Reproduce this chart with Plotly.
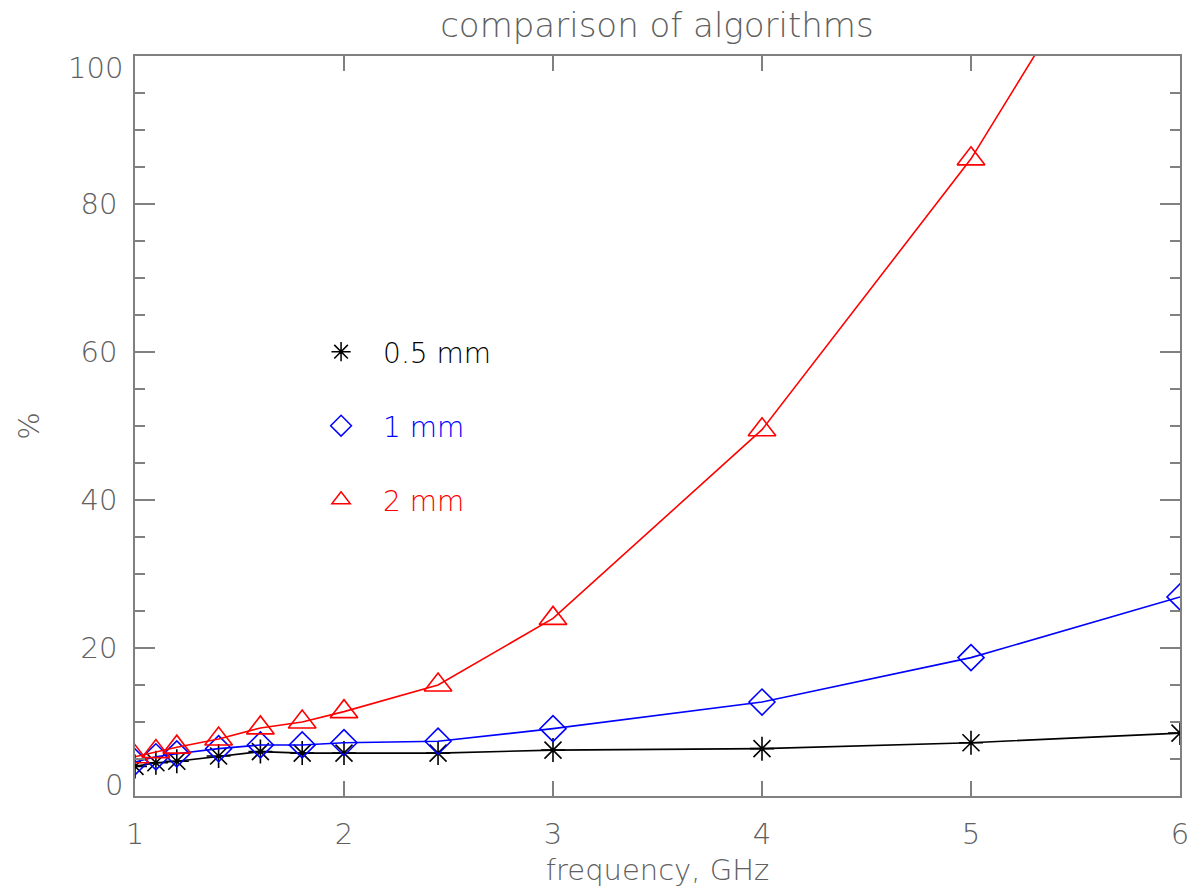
import plotly.graph_objects as go

freq_ghz = [1.0, 1.1, 1.2, 1.4, 1.6, 1.8, 2.0, 2.45, 3.0, 4.0, 5.0, 6.0]
pct_05mm = [4.0, 4.5, 4.7, 5.4, 6.0, 5.8, 5.8, 5.8, 6.2, 6.4, 7.2, 8.5]
pct_1mm = [4.6, 5.3, 5.7, 6.4, 6.9, 6.9, 7.2, 7.4, 9.1, 12.7, 18.7, 26.9]
pct_2mm = [5.3, 6.0, 6.6, 7.7, 9.2, 10.0, 11.4, 15.0, 24.0, 49.5, 86.1, 132.0]

y_tick_values = [0, 20, 40, 60, 80, 100]
y_tick_labels = ["0", "20", "40", "60", "80", "100"]
x_tick_values = [1, 2, 3, 4, 5, 6]
x_tick_labels = ["1", "2", "3", "4", "5", "6"]

series_names = ["0.5 mm", "1 mm", "2 mm"]
series_colors = ["#000000", "#0000ff", "#ff0000"]
series_symbols = ["asterisk-open", "diamond-open", "triangle-up-open"]
series_sizes = [20, 20, 24]
series_values = [pct_05mm, pct_1mm, pct_2mm]
legend_ids = ["legend", "legend2", "legend3"]

FONT = "DejaVu Sans"
GRAY = "#606060"
AXIS = "#808080"
TICKFONT = dict(family=FONT, size=29, color=GRAY, weight=200)

fig = go.Figure()
for name, col, sym, sz, vals in zip(series_names, series_colors, series_symbols, series_sizes, series_values):
    fig.add_trace(go.Scatter(
        x=freq_ghz, y=vals, mode="lines+markers", name=name,
        line=dict(color=col, width=1.6),
        marker=dict(symbol=sym, size=sz, color=col, line=dict(width=1.6, color=col)),
        showlegend=False,
    ))
# legend-only entries (markers only)
for name, col, sym, lg in zip(series_names, series_colors, series_symbols, legend_ids):
    fig.add_trace(go.Scatter(
        x=[None], y=[None], mode="markers", name=name, legend=lg,
        marker=dict(symbol=sym, size=16, color=col, line=dict(width=1.5, color=col)),
        showlegend=True,
    ))

def leg(y, color):
    return dict(x=0.157, y=y, xanchor="left", yanchor="middle", xref="paper", yref="paper",
                bgcolor="rgba(0,0,0,0)", itemwidth=74,
                font=dict(family=FONT, size=28, color=color, weight=200))

# end labels of the y axis are nudged inward (as in the original)
end_annotations = [
    dict(x=0, xref="paper", y=y_tick_values[0], yref="y", text=y_tick_labels[0],
         showarrow=False, xanchor="right", yanchor="middle", xshift=-10, yshift=11, font=TICKFONT),
    dict(x=0, xref="paper", y=y_tick_values[-1], yref="y", text=y_tick_labels[-1],
         showarrow=False, xanchor="right", yanchor="middle", xshift=-10, yshift=-12, font=TICKFONT),
]

fig.update_layout(
    width=1201, height=894,
    margin=dict(l=135, r=21, t=56, b=98),
    paper_bgcolor="white", plot_bgcolor="white",
    title=dict(text="comparison of algorithms", x=0.547, xanchor="center", y=0.972, yanchor="middle",
               font=dict(family=FONT, size=34, color=GRAY, weight=200)),
    legend=leg(0.6, "#000000"),
    legend2=leg(0.5, "#0000ff"),
    legend3=leg(0.4, "#ff0000"),
    annotations=end_annotations,
    xaxis=dict(range=[1, 6], tickmode="array", tickvals=x_tick_values, ticktext=x_tick_labels,
               showgrid=False, zeroline=False,
               showline=True, linecolor=AXIS, linewidth=1.5, mirror="allticks",
               ticks="inside", ticklen=15, tickwidth=1.5, tickcolor=AXIS,
               tickfont=TICKFONT, ticklabelstandoff=11,
               title=dict(text="frequency, GHz", standoff=10,
                          font=dict(family=FONT, size=29, color=GRAY, weight=200))),
    yaxis=dict(range=[0, 100], tickmode="array", tickvals=y_tick_values,
               ticktext=[""] + y_tick_labels[1:-1] + [""],
               showgrid=False, zeroline=False,
               showline=True, linecolor=AXIS, linewidth=1.5, mirror="allticks",
               ticks="inside", ticklen=20, tickwidth=1.5, tickcolor=AXIS,
               minor=dict(dtick=5, ticks="inside", ticklen=10, tickwidth=1.5, tickcolor=AXIS, showgrid=False),
               tickfont=TICKFONT, ticklabelstandoff=10,
               title=dict(text="%", standoff=32,
                          font=dict(family=FONT, size=29, color=GRAY, weight=200))),
)

fig.write_html("out.html")
